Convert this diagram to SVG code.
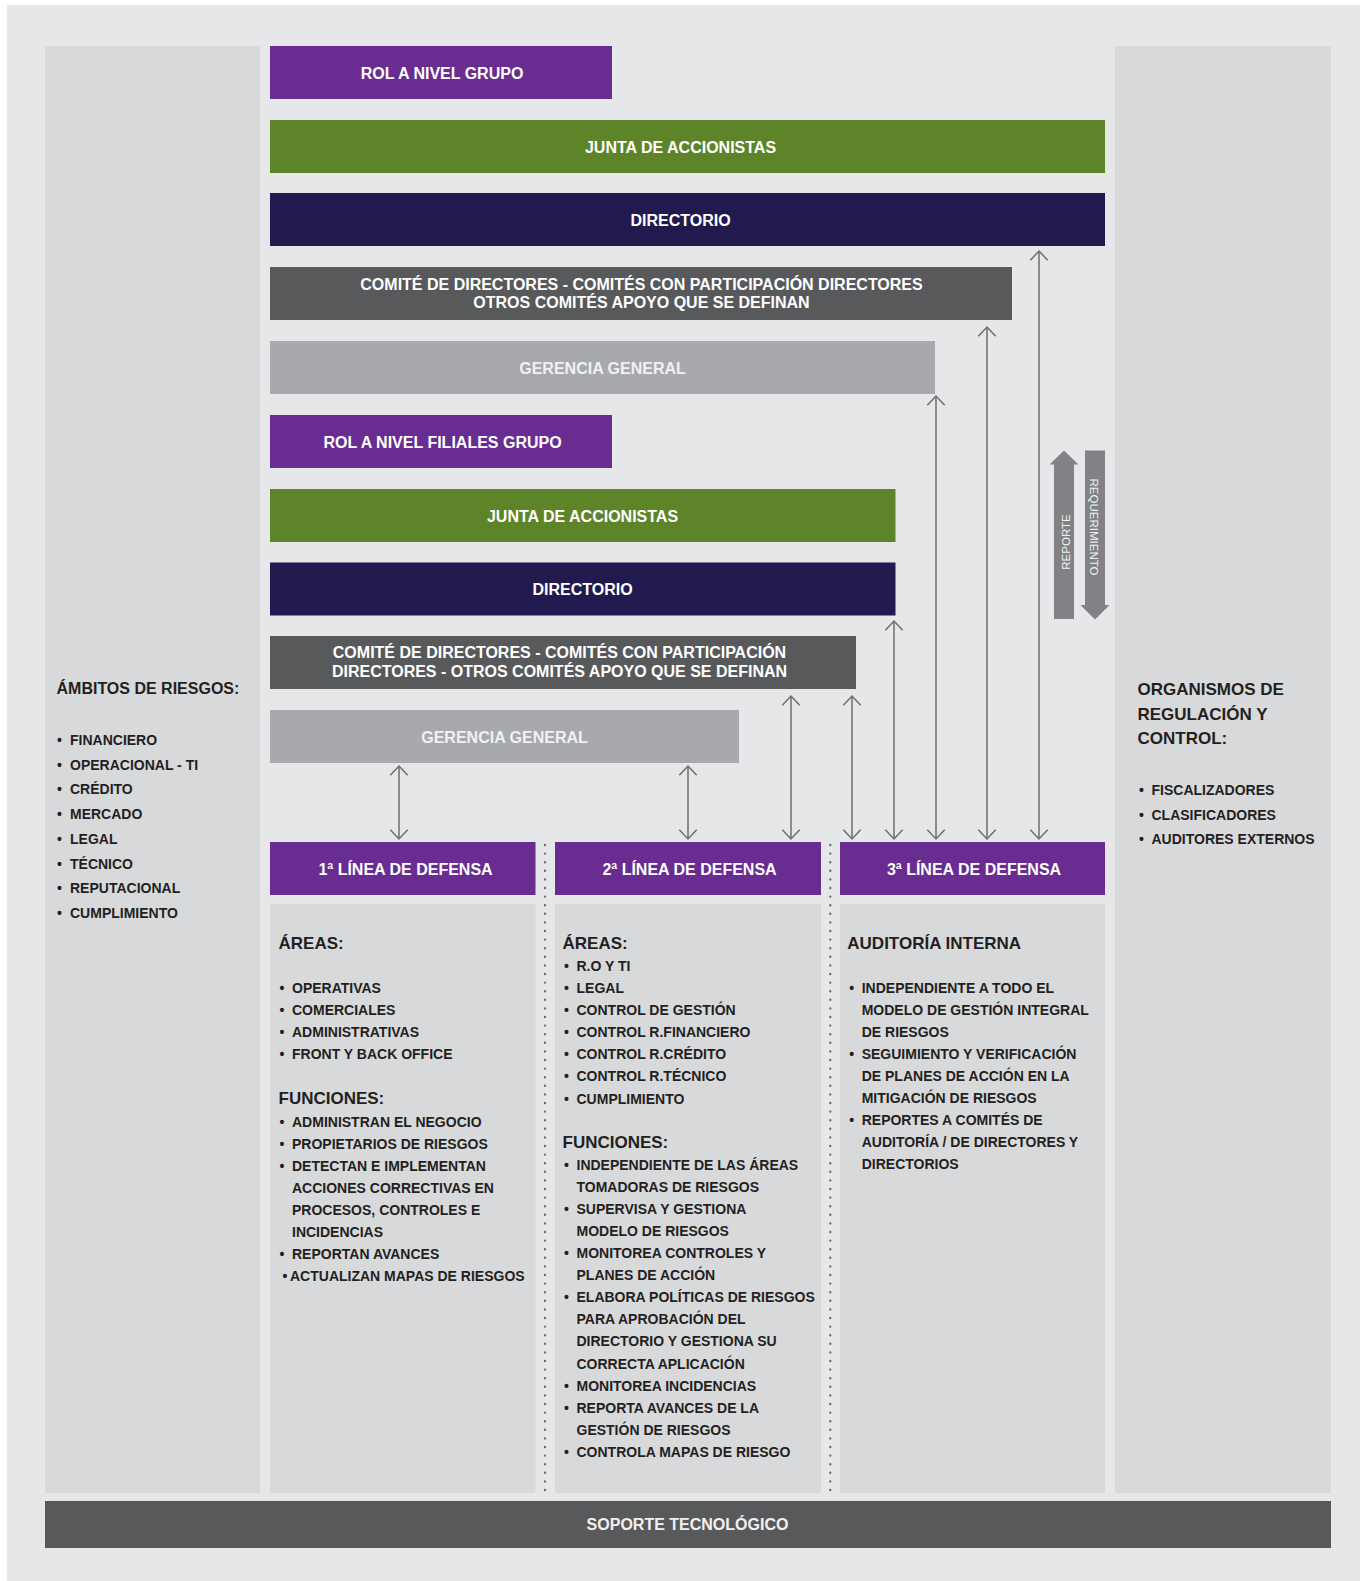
<svg xmlns="http://www.w3.org/2000/svg" width="1360" height="1581" viewBox="0 0 1360 1581">
<style>
.bt{font-family:"Liberation Sans",Arial,sans-serif;font-weight:700;font-size:16px;fill:#ffffff;text-anchor:middle}
.bl{fill:#f1f1f2}
.h{font-family:"Liberation Sans",Arial,sans-serif;font-weight:700;font-size:17px;fill:#231f20}
.t{font-family:"Liberation Sans",Arial,sans-serif;font-weight:700;font-size:14px;fill:#231f20}
.rt{font-family:"Liberation Sans",Arial,sans-serif;font-size:11.5px;fill:#f1f1f2;text-anchor:middle}
.conn{stroke:#6d6e71;stroke-width:1.5;fill:none;marker-start:url(#chev);marker-end:url(#chev)}
.dot{stroke:#6d6e71;stroke-width:2.4;stroke-linecap:round;stroke-dasharray:0 8.6;fill:none}
.panel{fill:#d8d9db}
</style>
<defs>
<marker id="chev" viewBox="-12 -12 24 24" refX="0" refY="0" markerWidth="24" markerHeight="24" markerUnits="userSpaceOnUse" orient="auto-start-reverse">
<path d="M-9.3,-8.7 L0,0 L-9.3,8.7" fill="none" stroke="#6d6e71" stroke-width="1.5"/>
</marker>
</defs>
<rect x="0" y="0" width="1360" height="1581" fill="#ffffff"/>
<rect x="7" y="5" width="1353" height="1576" fill="#e6e7e8"/>

<g id="ambitos">
<rect class="panel" x="45" y="46" width="215" height="1447"/>
<text class="h" x="56.5" y="694" style="font-size:16px">ÁMBITOS DE RIESGOS:</text>
<text class="t" y="745"><tspan x="57">•</tspan><tspan x="70">FINANCIERO</tspan></text>
<text class="t" y="769.7"><tspan x="57">•</tspan><tspan x="70">OPERACIONAL - TI</tspan></text>
<text class="t" y="794.4"><tspan x="57">•</tspan><tspan x="70">CRÉDITO</tspan></text>
<text class="t" y="819.1"><tspan x="57">•</tspan><tspan x="70">MERCADO</tspan></text>
<text class="t" y="843.8"><tspan x="57">•</tspan><tspan x="70">LEGAL</tspan></text>
<text class="t" y="868.5"><tspan x="57">•</tspan><tspan x="70">TÉCNICO</tspan></text>
<text class="t" y="893.2"><tspan x="57">•</tspan><tspan x="70">REPUTACIONAL</tspan></text>
<text class="t" y="917.9"><tspan x="57">•</tspan><tspan x="70">CUMPLIMIENTO</tspan></text>
</g>

<g id="organismos">
<rect class="panel" x="1115" y="46" width="216" height="1447"/>
<text class="h" x="1137.5" y="695">ORGANISMOS DE</text>
<text class="h" x="1137.5" y="719.5">REGULACIÓN Y</text>
<text class="h" x="1137.5" y="744">CONTROL:</text>
<text class="t" y="795"><tspan x="1139">•</tspan><tspan x="1151.5">FISCALIZADORES</tspan></text>
<text class="t" y="819.5"><tspan x="1139">•</tspan><tspan x="1151.5">CLASIFICADORES</tspan></text>
<text class="t" y="843.5"><tspan x="1139">•</tspan><tspan x="1151.5">AUDITORES EXTERNOS</tspan></text>
</g>

<g id="rol-grupo">
<rect x="270" y="46" width="342" height="53" fill="#692c91"/>
<text class="bt" x="442" y="78.5">ROL A NIVEL GRUPO</text>
</g>
<g id="junta-grupo">
<rect x="270" y="120" width="835" height="53" fill="#5e8429"/>
<text class="bt" x="680.5" y="152.5">JUNTA DE ACCIONISTAS</text>
</g>
<g id="directorio-grupo">
<rect x="270" y="193" width="835" height="53" fill="#201a4e"/>
<text class="bt" x="680.5" y="225.5">DIRECTORIO</text>
</g>
<g id="comite-grupo">
<rect x="270" y="267" width="742" height="53" fill="#58595b"/>
<text class="bt" x="641.5" y="289.5">COMITÉ DE DIRECTORES - COMITÉS CON PARTICIPACIÓN DIRECTORES</text>
<text class="bt" x="641.5" y="308.3">OTROS COMITÉS APOYO QUE SE DEFINAN</text>
</g>
<g id="gerencia-grupo">
<rect x="270" y="341" width="665" height="53" fill="#a7a9ac"/>
<text class="bt bl" x="602.5" y="373.5">GERENCIA GENERAL</text>
</g>
<g id="rol-filiales">
<rect x="270" y="415" width="342" height="53" fill="#692c91"/>
<text class="bt" x="442.5" y="447.5">ROL A NIVEL FILIALES GRUPO</text>
</g>
<g id="junta-filiales">
<rect x="270" y="489" width="625.5" height="53" fill="#5e8429"/>
<text class="bt" x="582.5" y="521.5">JUNTA DE ACCIONISTAS</text>
</g>
<g id="directorio-filiales">
<rect x="270" y="562.5" width="625.5" height="53" fill="#201a4e"/>
<text class="bt" x="582.5" y="595">DIRECTORIO</text>
</g>
<g id="comite-filiales">
<rect x="270" y="636" width="586" height="53" fill="#58595b"/>
<text class="bt" x="559.5" y="658.3">COMITÉ DE DIRECTORES - COMITÉS CON PARTICIPACIÓN</text>
<text class="bt" x="559.5" y="676.9">DIRECTORES - OTROS COMITÉS APOYO QUE SE DEFINAN</text>
</g>
<g id="gerencia-filiales">
<rect x="270" y="710" width="469" height="53" fill="#a7a9ac"/>
<text class="bt bl" x="504.5" y="743">GERENCIA GENERAL</text>
</g>

<g id="linea1">
<rect x="270" y="842" width="265.5" height="53" fill="#692c91"/>
<text class="bt" x="405.5" y="874.5">1ª LÍNEA DE DEFENSA</text>
<rect class="panel" x="270" y="904" width="265.5" height="589"/>
<text class="h" x="278.5" y="949">ÁREAS:</text>
<text class="t" y="993"><tspan x="279.5">•</tspan><tspan x="292">OPERATIVAS</tspan></text>
<text class="t" y="1015"><tspan x="279.5">•</tspan><tspan x="292">COMERCIALES</tspan></text>
<text class="t" y="1037"><tspan x="279.5">•</tspan><tspan x="292">ADMINISTRATIVAS</tspan></text>
<text class="t" y="1059"><tspan x="279.5">•</tspan><tspan x="292">FRONT Y BACK OFFICE</tspan></text>
<text class="h" x="278.5" y="1104">FUNCIONES:</text>
<text class="t" y="1126.5"><tspan x="279.5">•</tspan><tspan x="292">ADMINISTRAN EL NEGOCIO</tspan></text>
<text class="t" y="1148.5"><tspan x="279.5">•</tspan><tspan x="292">PROPIETARIOS DE RIESGOS</tspan></text>
<text class="t" y="1170.5"><tspan x="279.5">•</tspan><tspan x="292">DETECTAN E IMPLEMENTAN</tspan></text>
<text class="t" x="292" y="1192.5">ACCIONES CORRECTIVAS EN</text>
<text class="t" x="292" y="1214.5">PROCESOS, CONTROLES E</text>
<text class="t" x="292" y="1236.5">INCIDENCIAS</text>
<text class="t" y="1258.5"><tspan x="279.5">•</tspan><tspan x="292">REPORTAN AVANCES</tspan></text>
<text class="t" y="1280.5"><tspan x="282.5">•</tspan><tspan x="290">ACTUALIZAN MAPAS DE RIESGOS</tspan></text>
</g>

<g id="linea2">
<rect x="555" y="842" width="266" height="53" fill="#692c91"/>
<text class="bt" x="689.5" y="874.5">2ª LÍNEA DE DEFENSA</text>
<rect class="panel" x="555" y="904" width="266" height="589"/>
<text class="h" x="562.5" y="949">ÁREAS:</text>
<text class="t" y="971"><tspan x="564">•</tspan><tspan x="576.5">R.O Y TI</tspan></text>
<text class="t" y="993"><tspan x="564">•</tspan><tspan x="576.5">LEGAL</tspan></text>
<text class="t" y="1015"><tspan x="564">•</tspan><tspan x="576.5">CONTROL DE GESTIÓN</tspan></text>
<text class="t" y="1037"><tspan x="564">•</tspan><tspan x="576.5">CONTROL R.FINANCIERO</tspan></text>
<text class="t" y="1059"><tspan x="564">•</tspan><tspan x="576.5">CONTROL R.CRÉDITO</tspan></text>
<text class="t" y="1081.2"><tspan x="564">•</tspan><tspan x="576.5">CONTROL R.TÉCNICO</tspan></text>
<text class="t" y="1103.5"><tspan x="564">•</tspan><tspan x="576.5">CUMPLIMIENTO</tspan></text>
<text class="h" x="562.5" y="1147.5">FUNCIONES:</text>
<text class="t" y="1170"><tspan x="564">•</tspan><tspan x="576.5">INDEPENDIENTE DE LAS ÁREAS</tspan></text>
<text class="t" x="576.5" y="1192">TOMADORAS DE RIESGOS</text>
<text class="t" y="1214"><tspan x="564">•</tspan><tspan x="576.5">SUPERVISA Y GESTIONA</tspan></text>
<text class="t" x="576.5" y="1236">MODELO DE RIESGOS</text>
<text class="t" y="1258"><tspan x="564">•</tspan><tspan x="576.5">MONITOREA CONTROLES Y</tspan></text>
<text class="t" x="576.5" y="1280">PLANES DE ACCIÓN</text>
<text class="t" y="1302"><tspan x="564">•</tspan><tspan x="576.5">ELABORA POLÍTICAS DE RIESGOS</tspan></text>
<text class="t" x="576.5" y="1324">PARA APROBACIÓN DEL</text>
<text class="t" x="576.5" y="1346">DIRECTORIO Y GESTIONA SU</text>
<text class="t" x="576.5" y="1368.5">CORRECTA APLICACIÓN</text>
<text class="t" y="1390.7"><tspan x="564">•</tspan><tspan x="576.5">MONITOREA INCIDENCIAS</tspan></text>
<text class="t" y="1412.9"><tspan x="564">•</tspan><tspan x="576.5">REPORTA AVANCES DE LA</tspan></text>
<text class="t" x="576.5" y="1435">GESTIÓN DE RIESGOS</text>
<text class="t" y="1457"><tspan x="564">•</tspan><tspan x="576.5">CONTROLA MAPAS DE RIESGO</tspan></text>
</g>

<g id="linea3">
<rect x="840" y="842" width="265" height="53" fill="#692c91"/>
<text class="bt" x="974" y="874.5">3ª LÍNEA DE DEFENSA</text>
<rect class="panel" x="840" y="904" width="265" height="589"/>
<text class="h" x="847.3" y="948.5">AUDITORÍA INTERNA</text>
<text class="t" y="993"><tspan x="849.3">•</tspan><tspan x="861.7">INDEPENDIENTE A TODO EL</tspan></text>
<text class="t" x="861.7" y="1015">MODELO DE GESTIÓN INTEGRAL</text>
<text class="t" x="861.7" y="1037">DE RIESGOS</text>
<text class="t" y="1059"><tspan x="849.3">•</tspan><tspan x="861.7">SEGUIMIENTO Y VERIFICACIÓN</tspan></text>
<text class="t" x="861.7" y="1081">DE PLANES DE ACCIÓN EN LA</text>
<text class="t" x="861.7" y="1103">MITIGACIÓN DE RIESGOS</text>
<text class="t" y="1125"><tspan x="849.3">•</tspan><tspan x="861.7">REPORTES A COMITÉS DE</tspan></text>
<text class="t" x="861.7" y="1147">AUDITORÍA / DE DIRECTORES Y</text>
<text class="t" x="861.7" y="1169">DIRECTORIOS</text>
</g>

<g id="soporte">
<rect x="45" y="1501" width="1286" height="47" fill="#58595b"/>
<text class="bt bl" x="687.5" y="1530">SOPORTE TECNOLÓGICO</text>
</g>

<g id="reporte">
<polygon points="1064,450.5 1078.5,464.5 1074,464.5 1074,619 1054,619 1054,464.5 1049.5,464.5" fill="#808285"/>
<text class="rt" transform="translate(1069.5,542) rotate(-90)">REPORTE</text>
</g>
<g id="requerimiento">
<polygon points="1085,450.5 1105,450.5 1105,605 1109.5,605 1095,619.5 1080.5,605 1085,605" fill="#808285"/>
<text class="rt" transform="translate(1090,527) rotate(90)">REQUERIMIENTO</text>
</g>

<g id="connectors">
<line class="dot" x1="545" y1="845" x2="545" y2="1491"/>
<line class="dot" x1="830.3" y1="845" x2="830.3" y2="1491"/>
<line class="conn" x1="399" y1="766" x2="399" y2="839"/>
<line class="conn" x1="688" y1="766" x2="688" y2="839"/>
<line class="conn" x1="791" y1="696" x2="791" y2="839"/>
<line class="conn" x1="852" y1="696" x2="852" y2="839"/>
<line class="conn" x1="894" y1="621" x2="894" y2="839"/>
<line class="conn" x1="936" y1="396" x2="936" y2="839"/>
<line class="conn" x1="987" y1="327" x2="987" y2="839"/>
<line class="conn" x1="1039" y1="251" x2="1039" y2="839"/>
</g>
</svg>
